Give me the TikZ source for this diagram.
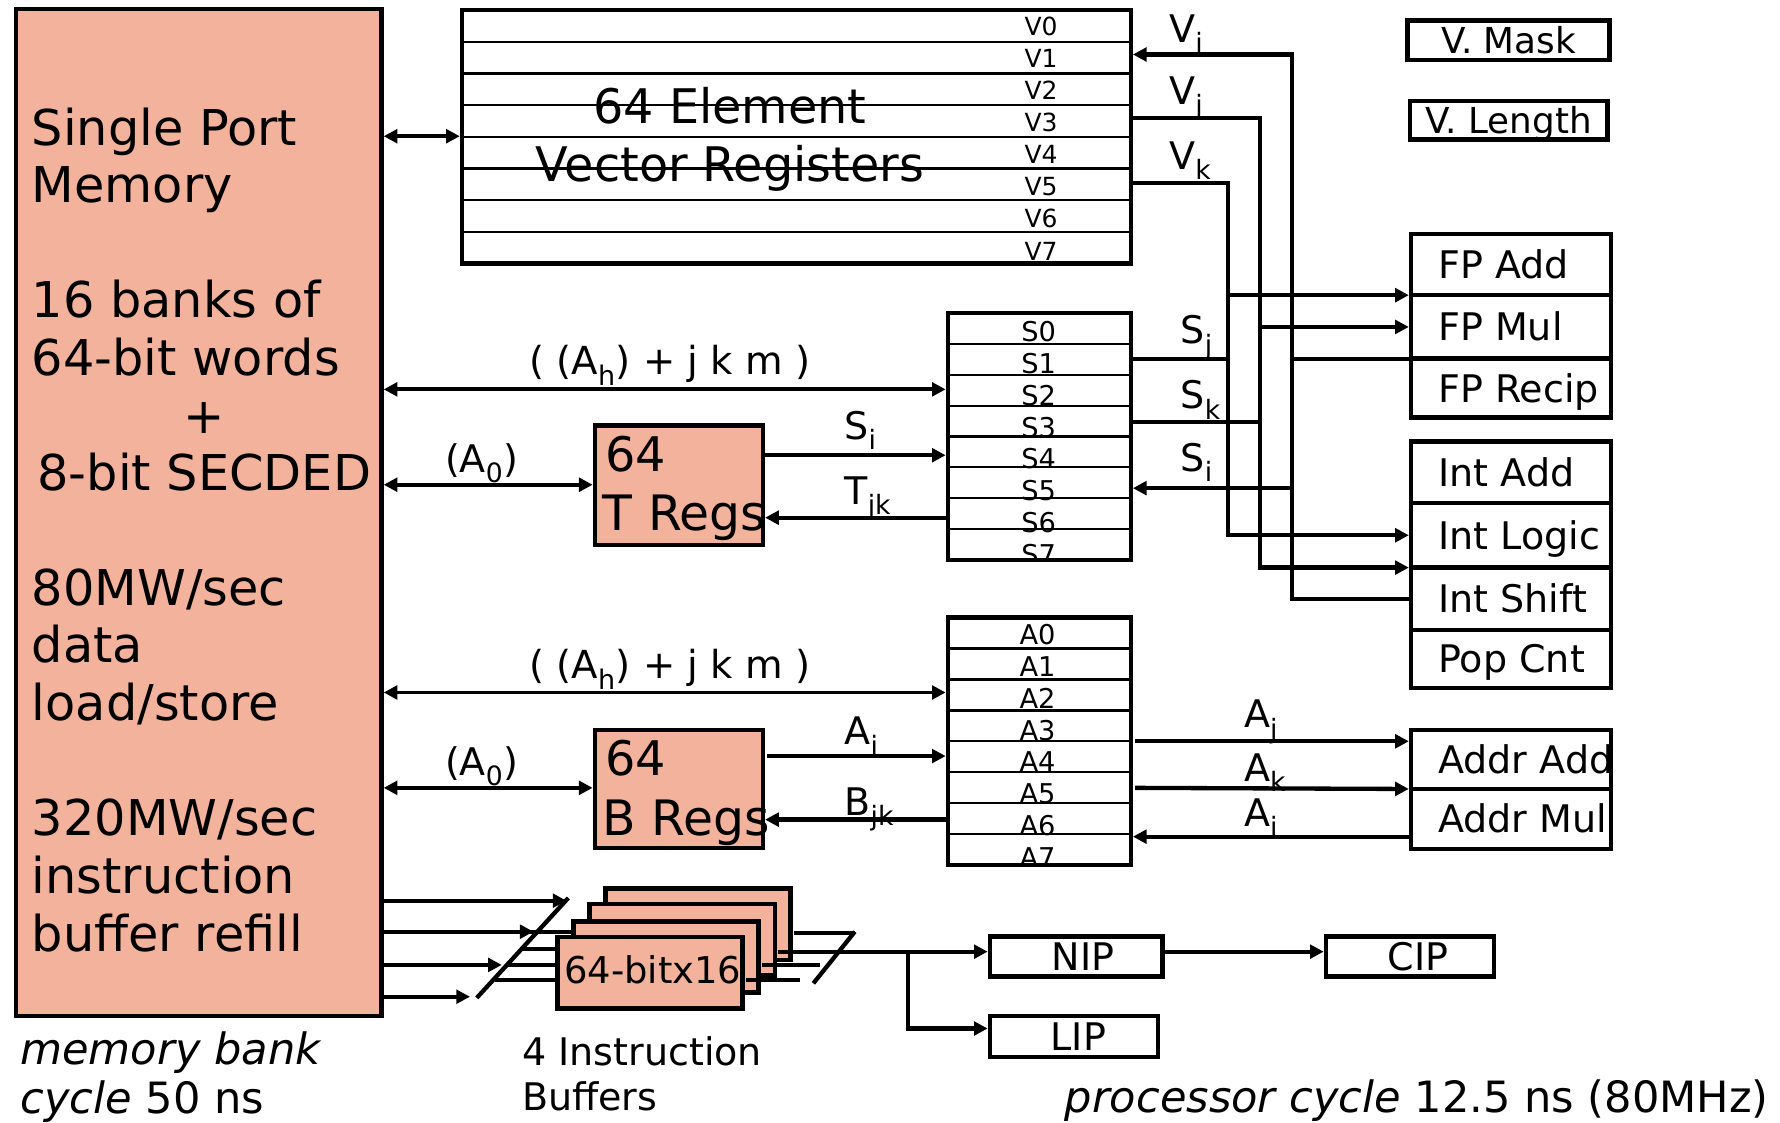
\documentclass[tikz,border=0pt]{standalone}
\usepackage{fontspec}
\setmainfont{DejaVu Sans}
\usetikzlibrary{arrows.meta}
\definecolor{memfill}{RGB}{243,178,155}
\newcommand\myfs[1]{\fontsize{#1}{#1}\selectfont}
\newcommand\fulab[1]{\makebox[128pt][l]{#1}}
\begin{document}
\begin{tikzpicture}[x=1pt,y=-1pt,
  >={Triangle[length=12pt,width=12pt]},
  box/.style={draw, line width=4pt, inner sep=0pt, outer sep=0pt},
  regbox/.style={draw, line width=3.8pt, inner sep=0pt, outer sep=0pt},
  rowline/.style={line width=2pt},
  ln/.style={line width=3.8pt},
  arr/.style={line width=3.8pt, ->, shorten >=2pt},
  darr/.style={line width=3.4pt, <->, shorten >=2pt, shorten <=2pt},
  txt/.style={inner sep=0pt, outer sep=0pt, anchor=base west},
  memtxt/.style={txt, font=\myfs{43.5}},
  regtxt/.style={txt, font=\myfs{42}},
  lab/.style={txt, font=\myfs{33.5}},
  fu/.style={box, minimum width=176pt, font=\myfs{33.5}, text height=24.5pt, text depth=0pt},
  smallbox/.style={box, font=\myfs{33.5}, text height=24.5pt, text depth=0pt},
  ib/.style={box, fill=memfill, minimum width=163pt, minimum height=63pt}
]
\useasboundingbox (0,0) rectangle (1568,989);
\fill[white] (0,0) rectangle (1568,989);

% ---------------- memory ----------------
\node[box, fill=memfill, minimum width=322pt, minimum height=887pt] (mem) at (175,451.5) {};
\node[memtxt] (m1) at (28,128) {Single Port};
\node[memtxt] (m2) at (28,178) {Memory};
\node[memtxt] (m3) at (28,280) {16 banks of};
\node[memtxt] (m4) at (28,331) {64-bit words};
\node[memtxt, anchor=base] (m5) at (180,382) {+};
\node[memtxt] (m6) at (33,432) {8-bit SECDED};
\node[memtxt] (m7) at (28,533) {80MW/sec};
\node[memtxt] (m8) at (28,584) {data};
\node[memtxt] (m9) at (28,635) {load/store};
\node[memtxt] (m10) at (28,736) {320MW/sec};
\node[memtxt] (m11) at (28,787) {instruction};
\node[memtxt] (m12) at (28,838) {buffer refill};
\node[txt, font=\myfs{38}] (mb1) at (18,938) {\textit{memory bank}};
\node[txt, font=\myfs{38}] (mb2) at (18,981) {\textit{cycle} 50 ns};
\node[txt, font=\myfs{38}] (pc) at (938,980) {\textit{processor cycle} 12.5 ns (80MHz)};

% ---------------- vector registers ----------------
\node[regbox, minimum width=589pt, minimum height=223pt] (vreg) at (701.5,120.5) {};
\node[regtxt, anchor=base] (ve1) at (643,109) {64 Element};
\node[regtxt, anchor=base] (ve2) at (643,160) {Vector Registers};
\foreach \k in {1,...,7} \draw[rowline] (407,{9+27.875*\k}) -- (996,{9+27.875*\k});
\foreach \k in {0,...,7} \node[txt, anchor=base, font=\myfs{22}] (vl\k) at (917,{31+28.3*\k}) {V\k};

% ---------------- scalar registers ----------------
\begin{scope}
\clip (837,278) rectangle (994,491);
\foreach \k in {0,...,7} \node[txt, anchor=base, font=\myfs{24}] (sl\k) at (915,{301+28*\k}) {S\k};
\end{scope}
\node[regbox, minimum width=161pt, minimum height=217pt] (sreg) at (915.5,384.5) {};
\foreach \k in {1,...,7} \draw[rowline] (835,{276+27.125*\k}) -- (996,{276+27.125*\k});

% ---------------- address registers ----------------
\begin{scope}
\clip (837,546) rectangle (994,760);
\foreach \k in {0,...,7} \node[txt, anchor=base, font=\myfs{24}] (al\k) at (914,{568+28*\k}) {A\k};
\end{scope}
\node[regbox, minimum width=161pt, minimum height=218pt] (areg) at (915.5,653) {};
\foreach \k in {1,...,7} \draw[rowline] (835,{544+27.25*\k}) -- (996,{544+27.25*\k});

% ---------------- T and B registers ----------------
\node[box, fill=memfill, minimum width=148pt, minimum height=105pt] (treg) at (598,427.5) {};
\node[regtxt] (t1) at (533,415) {64};
\node[regtxt, font=\myfs{43}] (t2) at (531,467) {T Regs};
\node[box, fill=memfill, minimum width=148pt, minimum height=104pt] (breg) at (598,695) {};
\node[regtxt] (b1) at (533,683) {64};
\node[regtxt, font=\myfs{43}] (b2) at (531,736) {B Regs};

% ---------------- mask / length ----------------
\node[smallbox, font=\myfs{31.5}, text height=23pt, minimum width=178pt, minimum height=35pt] (vmask) at (1329,35.5) {V. Mask};
\node[smallbox, font=\myfs{31.5}, text height=23pt, minimum width=174pt, minimum height=34pt] (vlen) at (1329,106) {V. Length};

% ---------------- functional units ----------------
\node[fu, minimum height=54pt] (fpadd) at (1331,233) {\fulab{FP Add}};
\node[fu, minimum height=56pt] (fpmul) at (1331,288) {\fulab{FP Mul}};
\node[fu, minimum height=52pt] (fprecip) at (1331,342) {\fulab{FP Recip}};
\node[fu, minimum height=54pt] (intadd) at (1331,416) {\fulab{Int Add}};
\node[fu, minimum height=57pt] (intlogic) at (1331,471.5) {\fulab{Int Logic}};
\node[fu, minimum height=55pt] (intshift) at (1331,527.5) {\fulab{Int Shift}};
\node[fu, minimum height=51pt] (popcnt) at (1331,580.5) {\fulab{Pop Cnt}};
\node[fu, minimum height=52pt] (addradd) at (1331,669) {\fulab{Addr Add}};
\node[fu, minimum height=53pt] (addrmul) at (1331,721.5) {\fulab{Addr Mul}};

% ---------------- instruction buffers ----------------
\node[ib] (ib4) at (615,814) {};
\node[ib] (ib3) at (601,828) {};
\node[ib] (ib2) at (586.5,843) {};
\node[ib] (ib1) at (572.5,857) {};
\node[txt, font=\myfs{32.5}] (ibt) at (497,866) {64-bitx16};
\node[txt, font=\myfs{33.5}] (ib5) at (460,939) {4 Instruction};
\node[txt, font=\myfs{33.5}] (ib6) at (460,978) {Buffers};

% ---------------- NIP / CIP / LIP ----------------
\node[smallbox, minimum width=152pt, minimum height=35pt] (nip) at (948,842.5) {\hspace*{12pt}NIP};
\node[smallbox, minimum width=148pt, minimum height=35pt] (cip) at (1242,842.5) {\hspace*{14pt}CIP};
\node[smallbox, minimum width=148pt, minimum height=36pt] (lip) at (946,913) {\hspace*{8pt}LIP};

% ---------------- memory connections ----------------
\draw[darr] (mem.east |- 0,120) -- (vreg.west |- 0,120);
\draw[darr] (mem.east |- 0,343) -- (sreg.west |- 0,343);
\draw[darr] (mem.east |- 0,427) -- (treg.west |- 0,427);
\draw[darr] (mem.east |- 0,610) -- (areg.west |- 0,610);
\draw[darr] (mem.east |- 0,694) -- (breg.west |- 0,694);
\node[lab, anchor=base, font=\myfs{34}] (l1) at (590,330) {( (A\textsubscript{h}) + j k m )};
\node[lab, anchor=base, font=\myfs{34}] (l2) at (590,598) {( (A\textsubscript{h}) + j k m )};
\node[lab] (l3) at (392,416) {(A\textsubscript{0})};
\node[lab] (l4) at (392,683) {(A\textsubscript{0})};

% ---------------- T / B <-> S / A ----------------
\draw[arr] (treg.east |- 0,401) -- (sreg.west |- 0,401);
\draw[arr] (sreg.west |- 0,456) -- (treg.east |- 0,456);
\draw[arr, shorten <=4pt] (breg.east |- 0,666) -- (areg.west |- 0,666);
\draw[arr] (areg.west |- 0,722) -- (breg.east |- 0,722);
\node[lab] (l5) at (744,387) {S\textsubscript{i}};
\node[lab] (l6) at (744,444) {T\textsubscript{jk}};
\node[lab] (l7) at (744,656) {A\textsubscript{i}};
\node[lab] (l8) at (744,718) {B\textsubscript{jk}};

% ---------------- buses to functional units ----------------
\coordinate (vi) at (1138,48);
\coordinate (vj) at (1110,104);
\coordinate (vk) at (1082,161);
\draw[arr] (intshift.west) -| (vi) -- (vreg.east |- vi);
\draw[ln] (fprecip.north west) -- (vi |- fprecip.north west);
\draw[arr] (vi |- 0,430) -- (sreg.east |- 0,430);
\draw[arr] (vreg.east |- vj) -- (vj) |- (intlogic.south west);
\draw[arr] (vj |- fpmul.west) -- (fpmul.west);
\draw[ln] (sreg.east |- 0,372) -- (vj |- 0,372);
\draw[arr] (vreg.east |- vk) -- (vk) |- (intlogic.west);
\draw[arr] (vk |- fpadd.south west) -- (fpadd.south west);
\draw[ln] (sreg.east |- 0,316) -- (vk |- 0,316);
\node[lab] (l9) at (1030,37) {V\textsubscript{i}};
\node[lab] (l10) at (1030,92) {V\textsubscript{j}};
\node[lab] (l11) at (1030,149) {V\textsubscript{k}};
\node[lab] (l12) at (1040,303) {S\textsubscript{j}};
\node[lab] (l13) at (1040,360) {S\textsubscript{k}};
\node[lab] (l14) at (1040,415) {S\textsubscript{i}};

% ---------------- address units ----------------
\draw[arr, shorten <=4pt] (areg.east |- 0,653) -- (addradd.west |- 0,653);
\draw[arr, shorten <=4pt] (areg.east |- 0,694) -- (addradd.south west);
\draw[arr] (addrmul.west |- 0,737) -- (areg.east |- 0,737);
\node[lab] (l15) at (1096,641) {A\textsubscript{j}};
\node[lab] (l16) at (1096,688) {A\textsubscript{k}};
\node[lab] (l17) at (1096,728) {A\textsubscript{i}};

% ---------------- instruction buffer wiring ----------------
\coordinate (a1) at (499,793.4);
\coordinate (a2) at (470,820.7);
\coordinate (a3) at (442,850);
\coordinate (a4) at (414,878);
\draw[arr, shorten >=0pt] (mem.east |- a1) -- (a1);
\draw[arr, shorten >=0pt] (mem.east |- a2) -- (a2);
\draw[arr, shorten >=0pt] (mem.east |- a3) -- (a3);
\draw[arr, shorten >=0pt] (mem.east |- a4) -- (a4);
\draw[ln] (420,879) -- (500.6,791);
\draw[ln] (464,820.7) -- (ib2.west |- 0,820.7);
\draw[ln] (461,836) -- (ib1.west |- 0,836);
\draw[ln] (446,850) -- (ib1.west |- 0,850);
\draw[ln] (436,863.3) -- (ib1.west |- 0,863.3);
\draw[ln, shorten <=3pt] (ib4.east |- 0,822) -- (753,822);
\draw[ln, shorten <=3pt] (ib2.east |- 0,850) -- (722.3,850);
\draw[ln, shorten <=3pt] (ib1.east |- 0,863.3) -- (704.7,863.3);
\draw[ln] (716.5,866.2) -- (753,820.7);
\coordinate (br) at (800,838.3);
\draw[arr, shorten <=3pt] (ib3.east |- br) -- (nip.west |- br);
\draw[arr] (br) |- (lip.west |- 0,906);
\draw[arr] (nip.east |- br) -- (cip.west |- br);
\end{tikzpicture}
\end{document}
